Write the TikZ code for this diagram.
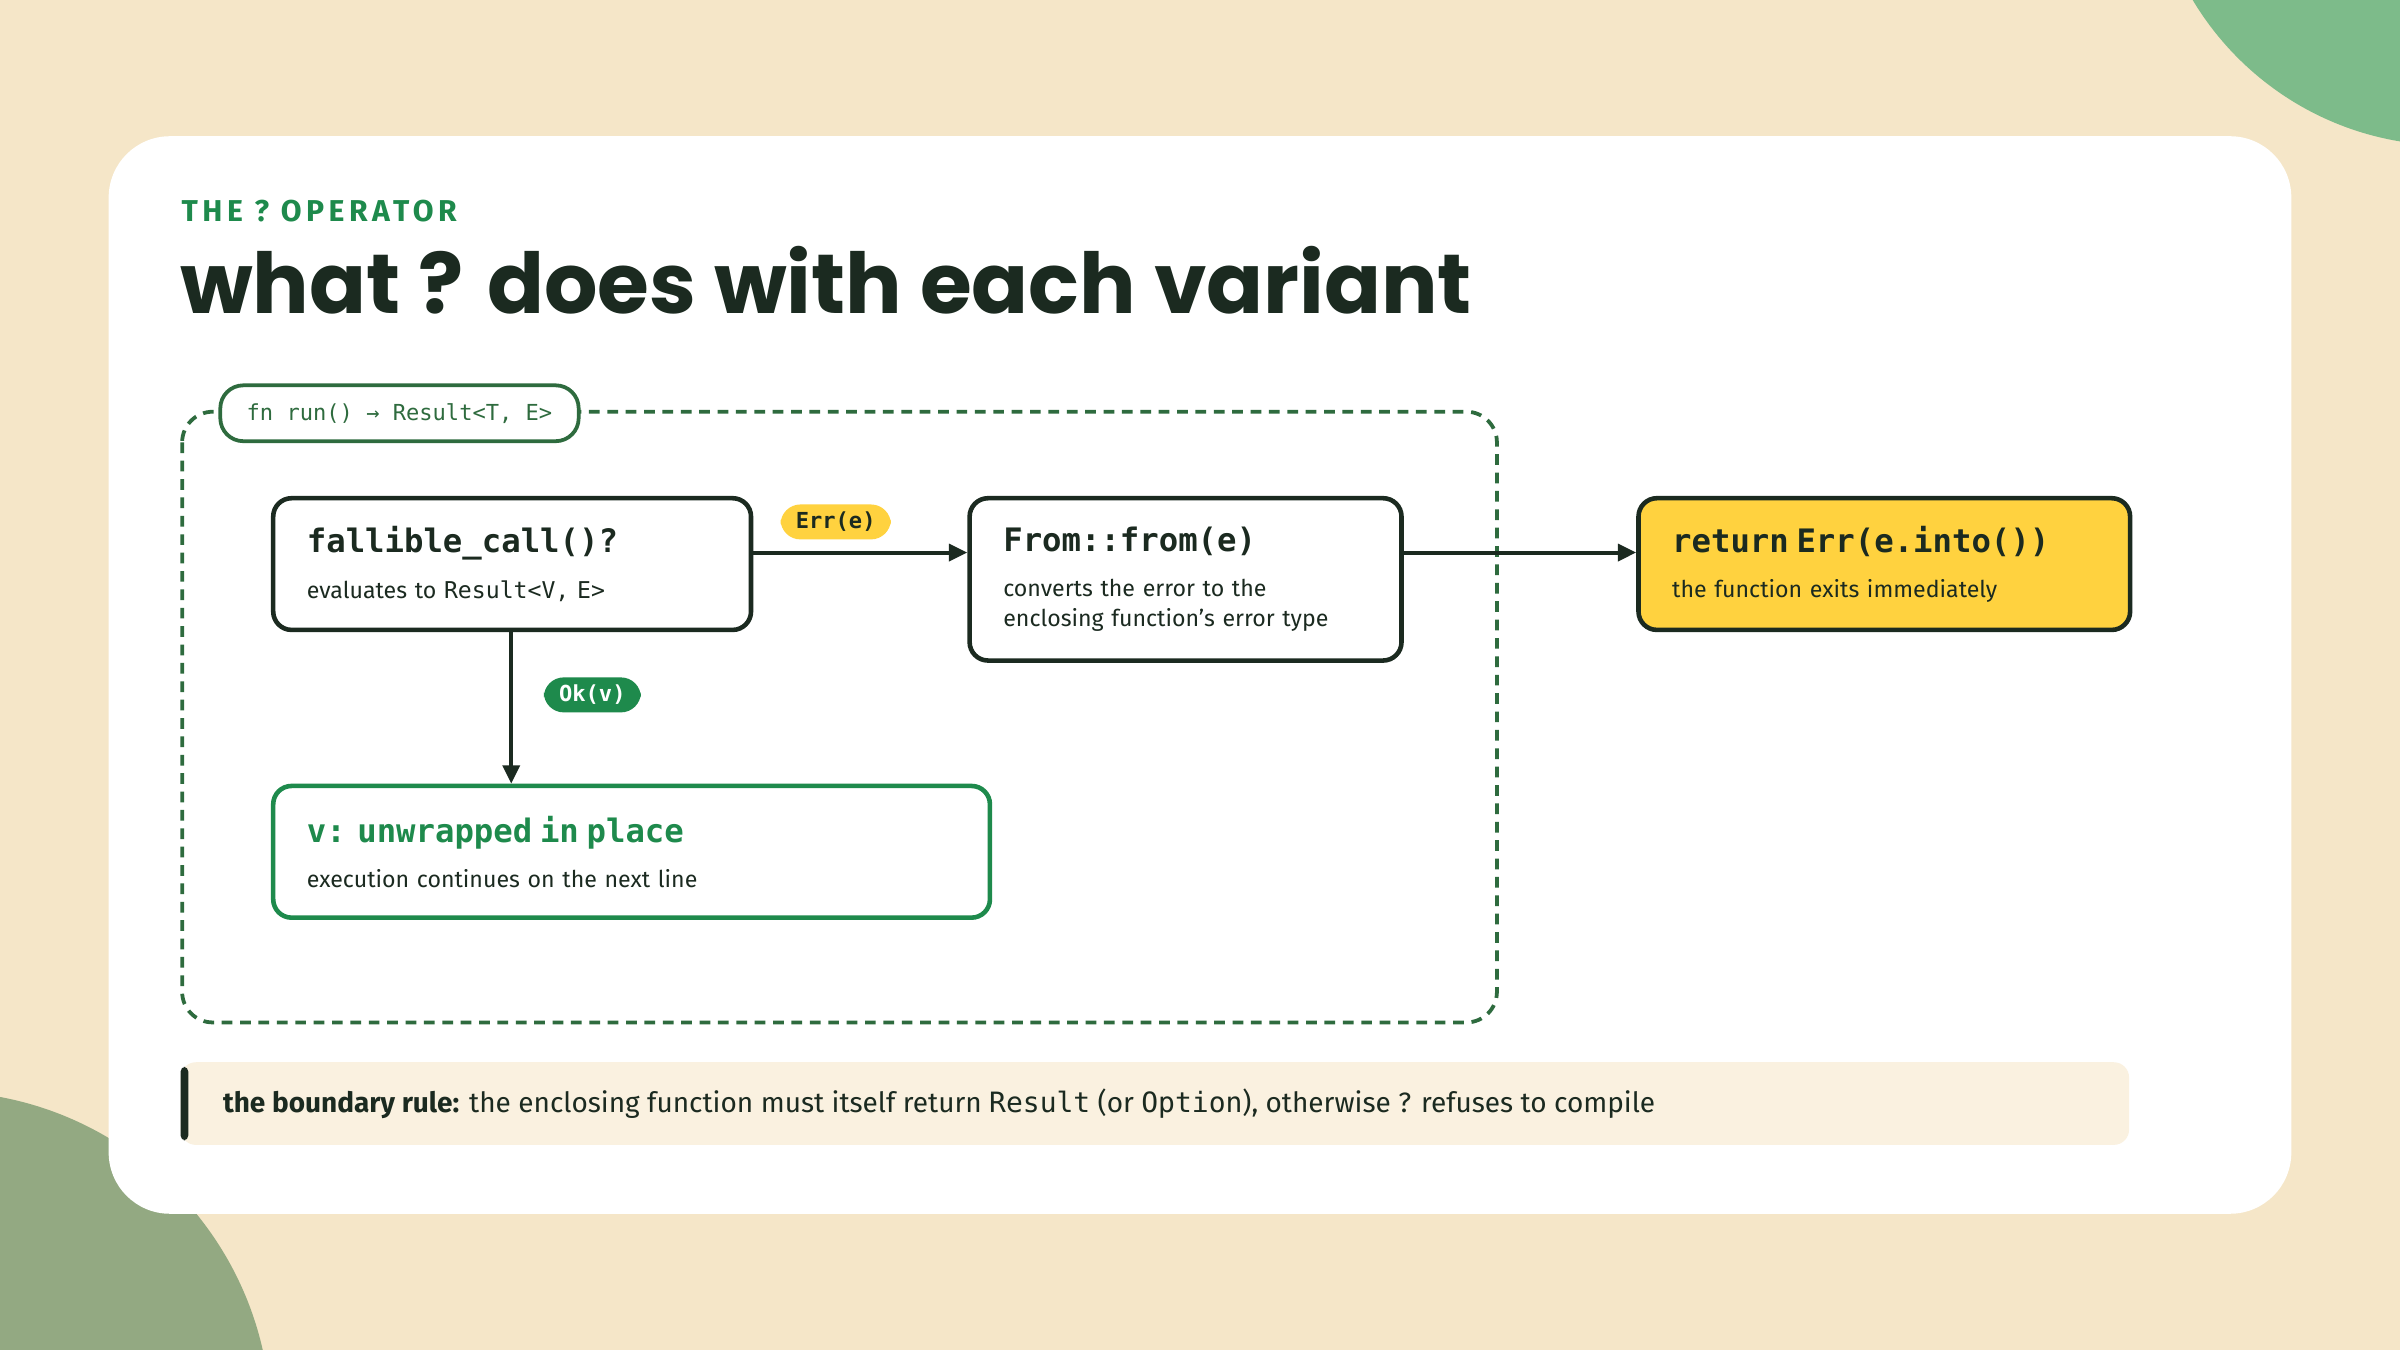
\documentclass[tikz,border=0pt]{standalone}
\usepackage{fontspec}
\setmainfont{Fira Sans}
\setmonofont{DejaVu Sans Mono}
\newfontfamily\titlefont{Poppins}
\usetikzlibrary{arrows.meta}
\definecolor{paper}{HTML}{F5E6C8}
\definecolor{leafGreen}{HTML}{7DBB8A}
\definecolor{sageGreen}{HTML}{93A982}
\definecolor{inkDark}{HTML}{1B2A20}
\definecolor{rustGreen}{HTML}{1E8A4C}
\definecolor{frameGreen}{HTML}{2E6B3E}
\definecolor{sunYellow}{HTML}{FFD23F}
\definecolor{noteCream}{HTML}{FAF1E0}
\newcommand{\fsz}[1]{\fontsize{#1}{1.3\dimexpr#1pt\relax}\selectfont}
\begin{document}
\begin{tikzpicture}[x=0.01cm, y=-0.01cm,
  stepBox/.style={draw=inkDark, line width=0.85pt, rounded corners=0.12cm, fill=white, anchor=north west,
    align=left, inner xsep=0.22cm, text=inkDark, font=\fsz{4.3}},
  pill/.style={rounded corners=0.13cm, inner xsep=0.1cm, inner ysep=0.05cm, font=\ttfamily\bfseries\fsz{4.1}},
  flow/.style={-{Triangle[length=0.12cm, width=0.11cm]}, line width=0.75pt, draw=inkDark}
]
\useasboundingbox (0,0) rectangle (1568,882);
\fill [paper] (0,0) rectangle (1568,882);
\begin{scope}
\clip (0,0) rectangle (1568,882);
\fill [leafGreen] (1600,-100) circle [radius=195];
\fill [sageGreen] (-40,930) circle [radius=217];
\end{scope}
\fill [white, rounded corners=0.4cm] (71,89) rectangle (1497,793);

% heading
\node [anchor=west, inner sep=0, text=rustGreen, font=\bfseries\fsz{5.6}] (kicker) at (118,138) {\addfontfeatures{LetterSpace=15}THE ? OPERATOR};
\node [anchor=base west, inner sep=0, text=inkDark, font=\titlefont\bfseries\fsz{15.6}] (title) at (117,205) {what ? does with each variant};

% function frame
\draw [frameGreen, line width=0.7pt, dash pattern=on 0.07cm off 0.05cm, rounded corners=0.2cm] (119,269) rectangle (978,668);
\node [draw=frameGreen, fill=white, line width=0.7pt, rounded corners=0.15cm, minimum width=2.34cm, minimum height=0.3cm,
  text=frameGreen, font=\ttfamily\fsz{4.1}] (sig) at (261,270) {fn run() → Result<T, E>};

% steps
\node [stepBox, text width=2.68cm, minimum height=0.86cm] (call) at (177,324)
  {{\ttfamily\bfseries\fsz{6}fallible\_call()?}\\[0.1cm]evaluates to {\ttfamily Result<V, E>}};
\node [stepBox, text width=2.38cm, minimum height=1.06cm] (conv) at (632,324)
  {{\ttfamily\bfseries\fsz{6}From::from(e)}\\[0.1cm]converts the error to the\\enclosing function's error type};
\node [stepBox, fill=sunYellow, text width=2.77cm, minimum height=0.86cm] (ret) at (1069,324)
  {{\ttfamily\bfseries\fsz{6}return Err(e.into())}\\[0.1cm]the function exits immediately};
\node [stepBox, draw=rustGreen, text width=4.24cm, minimum height=0.86cm] (okv) at (177,512)
  {{\ttfamily\bfseries\fsz{6}\color{rustGreen}v: unwrapped in place}\\[0.1cm]execution continues on the next line};

% connectors
\draw [flow] (call.east |- 0,361) -- (conv.west |- 0,361);
\draw [flow] (conv.east |- 0,361) -- (ret.west |- 0,361);
\draw [flow] (call.south -| 334,0) -- (okv.north -| 334,0);
\node [pill, fill=sunYellow, text=inkDark] (errTag) at (546,341) {Err(e)};
\node [pill, fill=rustGreen, text=white] (okTag) at (387,454) {Ok(v)};

% boundary note
\fill [noteCream, rounded corners=0.1cm] (118,694) rectangle (1391,748);
\fill [inkDark, rounded corners=0.03cm] (118,697) rectangle (123,745);
\node [anchor=west, inner sep=0, text=inkDark, font=\fsz{5.2}] (note) at (145,721)
  {\textbf{the boundary rule:} the enclosing function must itself return {\ttfamily Result} (or {\ttfamily Option}), otherwise ? refuses to compile};
\end{tikzpicture}
\end{document}
